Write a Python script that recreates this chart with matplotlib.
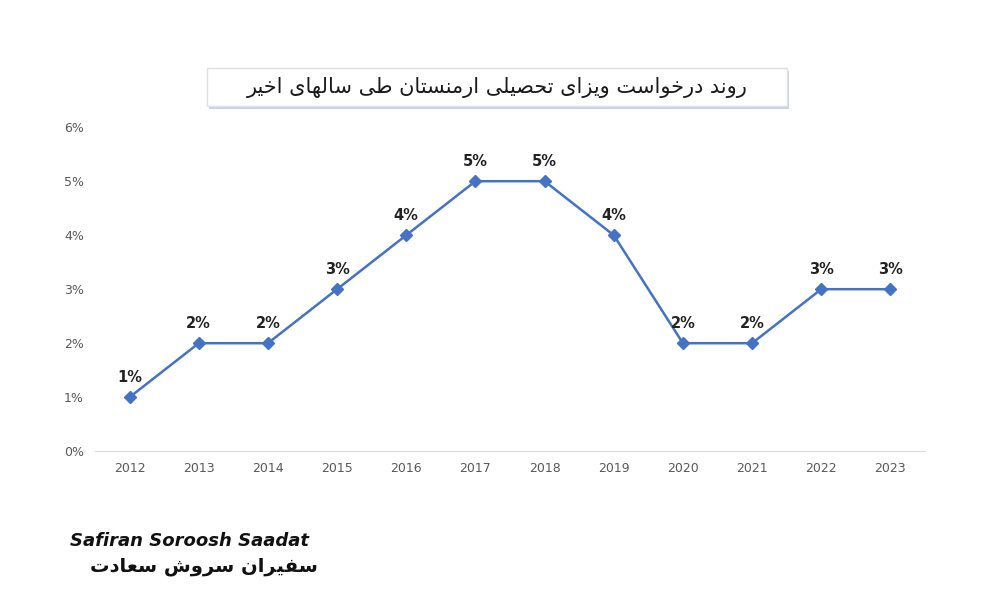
import matplotlib
matplotlib.use("Agg")
from matplotlib import pyplot as plt
from matplotlib.patches import FancyBboxPatch

YEARS = ["2012", "2013", "2014", "2015", "2016", "2017",
         "2018", "2019", "2020", "2021", "2022", "2023"]
RATES = [1, 2, 2, 3, 4, 5, 5, 4, 2, 2, 3, 3]
Y_TICKS = [0, 1, 2, 3, 4, 5, 6]
TITLE = "روند درخواست ویزای تحصیلی ارمنستان طی سالهای اخیر"
LOGO_EN = "Safiran Soroosh Saadat"
LOGO_FA = "سفیران سروش سعادت"

BLUE = "#4472C4"

# minimal Persian shaping: (isolated, final, initial, medial)
FORMS = {
    "ا": (0xFE8D, 0xFE8E, None, None), "د": (0xFEA9, 0xFEAA, None, None),
    "ر": (0xFEAD, 0xFEAE, None, None), "ز": (0xFEAF, 0xFEB0, None, None),
    "و": (0xFEED, 0xFEEE, None, None),
    "ت": (0xFE95, 0xFE96, 0xFE97, 0xFE98), "ح": (0xFEA1, 0xFEA2, 0xFEA3, 0xFEA4),
    "خ": (0xFEA5, 0xFEA6, 0xFEA7, 0xFEA8), "س": (0xFEB1, 0xFEB2, 0xFEB3, 0xFEB4),
    "ش": (0xFEB5, 0xFEB6, 0xFEB7, 0xFEB8), "ص": (0xFEB9, 0xFEBA, 0xFEBB, 0xFEBC),
    "ط": (0xFEC1, 0xFEC2, 0xFEC3, 0xFEC4), "ع": (0xFEC9, 0xFECA, 0xFECB, 0xFECC),
    "ف": (0xFED1, 0xFED2, 0xFED3, 0xFED4), "ل": (0xFEDD, 0xFEDE, 0xFEDF, 0xFEE0),
    "م": (0xFEE1, 0xFEE2, 0xFEE3, 0xFEE4), "ن": (0xFEE5, 0xFEE6, 0xFEE7, 0xFEE8),
    "ه": (0xFEE9, 0xFEEA, 0xFEEB, 0xFEEC), "ی": (0xFBFC, 0xFBFD, 0xFBFE, 0xFBFF),
}


def shape(text):
    out = []
    for i, ch in enumerate(text):
        if ch not in FORMS:
            out.append(ch)
            continue
        prev = text[i - 1] if i > 0 else ""
        nxt = text[i + 1] if i + 1 < len(text) else ""
        joins_prev = prev in FORMS and FORMS[prev][2] is not None
        joins_next = nxt in FORMS and FORMS[ch][2] is not None
        iso, fin, ini, med = FORMS[ch]
        if joins_prev and joins_next:
            code = med
        elif joins_prev:
            code = fin
        elif joins_next:
            code = ini
        else:
            code = iso
        out.append(chr(code))
    return "".join(out)[::-1]


fig = plt.figure(figsize=(10, 6), dpi=100)
ax = fig.add_axes([0.095, 0.248, 0.83, 0.54])

x = list(range(len(YEARS)))
ax.plot(x, RATES, color=BLUE, lw=1.8, marker="D", ms=6)
for xi, v in zip(x, RATES):
    ax.annotate(f"{v}%", (xi, v), xytext=(0, 9), textcoords="offset points",
                ha="center", va="bottom", fontsize=10.5, fontweight="bold",
                color="#222222")

ax.set_xlim(-0.5, len(YEARS) - 0.5)
ax.set_ylim(0, 6)
ax.set_xticks(x, YEARS)
ax.set_yticks(Y_TICKS, [f"{t}%" for t in Y_TICKS])
ax.tick_params(length=0, labelsize=9, colors="#595959", pad=8)
for side in ("top", "right", "left"):
    ax.spines[side].set_visible(False)
ax.spines["bottom"].set_color("#d9d9d9")

# title box
fig.patches.append(FancyBboxPatch((0.209, 0.818), 0.58, 0.064, boxstyle="square,pad=0",
                                  transform=fig.transFigure, fc="#c9d3e8", ec="none"))
fig.patches.append(FancyBboxPatch((0.207, 0.823), 0.58, 0.064, boxstyle="square,pad=0",
                                  transform=fig.transFigure, fc="white", ec="#e0e0e0"))
fig.text(0.497, 0.855, shape(TITLE), ha="center", va="center",
         fontsize=15, family="DejaVu Sans", color="#1a1a1a")

# logo text
fig.text(0.07, 0.098, LOGO_EN, fontsize=13, fontweight="bold", style="italic",
         color="#111111", ha="left", va="center")
fig.text(0.09, 0.055, shape(LOGO_FA), fontsize=14, fontweight="bold",
         color="#111111", ha="left", va="center")

fig.savefig("out.png")
